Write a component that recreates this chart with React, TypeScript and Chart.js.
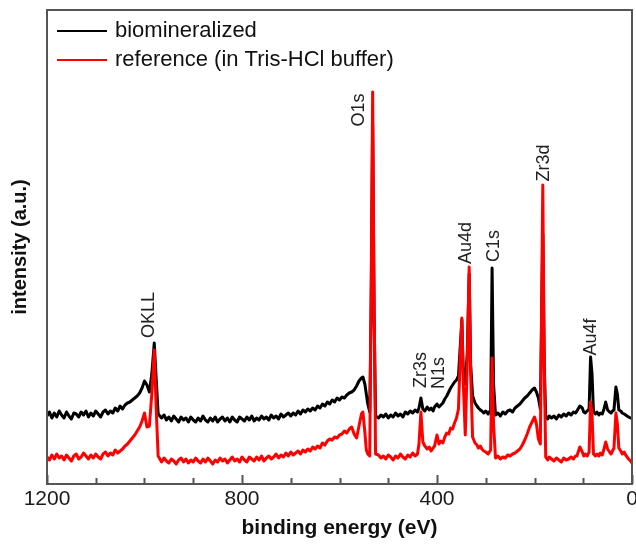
import { useEffect, useRef } from 'react';
import { Chart, registerables } from 'chart.js';

Chart.register(...registerables);

const FONT = '"Liberation Sans", Arial, Helvetica, sans-serif';

// binding energy (eV), descending
const energy = [
  1200, 1195, 1190, 1185, 1180, 1175, 1170, 1165, 1160, 1155, 1150, 1145, 1140, 1135, 1130, 1125, 1120, 1115, 1110, 1105,
  1100, 1095, 1090, 1085, 1080, 1075, 1070, 1065, 1060, 1055, 1050, 1045, 1040,
  1035, 1030, 1025, 1020, 1015, 1010, 1005, 1000, 995, 990, 985, 980, 976, 972,
  965, 960, 955, 950, 945, 940, 935, 930, 925, 920, 915, 910, 905, 900, 895, 890, 885, 880, 875, 870,
  865, 860, 855, 850, 845, 840, 835, 830, 825, 820, 815, 810, 805, 800, 795, 790, 785, 780, 775, 770,
  765, 760, 755, 750, 745, 740, 735, 730, 725, 720, 715, 710, 705, 700, 695, 690, 685, 680, 675, 670,
  665, 660, 655, 650, 645, 640, 635, 630, 625, 620, 615, 610, 605, 600,
  595, 590, 585, 580, 575, 570, 565, 560, 555, 552, 548, 545, 542, 538, 535, 532, 529, 526,
  520, 515, 510, 505, 500, 495, 490, 485, 480, 475, 470, 465, 460, 455, 450, 445, 440,
  437, 433, 429, 425, 420, 416, 412, 408, 405, 400, 396, 392, 388, 384, 380, 376, 372, 368, 364, 360,
  356, 352, 349, 346, 342, 338, 334, 331, 327, 322, 318, 315, 311, 308, 304, 300, 295, 290, 287, 284, 280,
  275, 270, 265, 260, 255, 250, 245, 240, 235, 230, 225, 220, 215, 210, 205, 200, 196, 192, 188, 185, 183, 180, 177,
  173, 170, 165, 160, 155, 150, 145, 140, 135, 130, 125, 120, 116, 113, 107, 102, 99, 96, 92, 88,
  85, 82, 79, 75, 72, 68, 65, 61, 58, 54, 50, 46, 43, 40, 37, 33, 30, 27, 23, 20, 16, 13, 10, 7, 3, 0,
];

const biomineralized = [
  68, 72, 66, 71, 67, 73, 69, 66, 72, 68, 65, 71, 70, 67, 72, 69, 73, 67, 71, 68,
  73, 70, 67, 72, 74, 70, 73, 71, 76, 73, 78, 75, 79,
  81, 82, 84, 86, 88, 91, 96, 103, 99, 92, 110, 141, 105, 70,
  66, 69, 64, 67, 63, 68, 65, 62, 67, 64, 66, 62, 67, 64, 62, 66, 63, 68, 64, 62,
  66, 63, 67, 62, 65, 67, 63, 66, 62, 67, 64, 62, 67, 65, 63, 67, 64, 68, 63, 66,
  64, 68, 65, 67, 64, 69, 66, 68, 65, 70, 67, 69, 71, 68, 71, 69, 73, 70, 74, 72,
  75, 73, 76, 74, 78, 76, 80, 78, 82, 80, 84, 82, 86, 84,
  87, 86, 89, 91, 92, 94, 98, 103, 106, 107, 100, 90, 80, 72, 180, 360, 170, 68,
  66, 69, 67, 70, 66, 69, 67, 71, 68, 70, 67, 72, 70, 73, 71, 74, 72,
  76, 86, 75, 73, 77, 74, 76, 73, 77, 80, 77, 79, 81, 85, 88, 92, 96, 99, 102, 104,
  108, 140, 164, 110, 100, 130, 210, 120, 88, 81, 78, 76, 74, 73, 71, 73, 70, 74, 216, 100, 69,
  71, 68, 72, 70, 73, 74, 72, 76, 78, 80, 83, 86, 88, 91, 94, 96, 92, 86, 75, 180, 250, 120, 67,
  65, 68, 66, 68, 65, 69, 67, 70, 68, 71, 69, 72, 71, 73, 78, 76, 72, 71, 73, 75,
  127, 110, 72, 70, 72, 69, 71, 70, 74, 82, 74, 72, 71, 73, 74, 97, 90, 74, 73, 71, 70, 69, 68, 67, 66, 66,
];

const reference = [
  27, 24, 29, 25, 30, 26, 28, 24, 29, 26, 23, 28, 30, 25, 27, 31, 28, 25, 29, 26,
  30, 27, 25, 30, 32, 28, 31, 29, 34, 31, 33, 35, 38,
  40, 43, 46, 49, 53, 57, 63, 71, 57, 58, 90, 134, 75, 28,
  22, 26, 23, 21, 25, 23, 20, 24, 26, 22, 25, 21, 24, 22, 26, 23, 21, 25, 22, 26,
  23, 20, 24, 22, 26, 23, 25, 21, 24, 27, 23, 25, 22, 27, 24, 22, 27, 25, 23, 27,
  24, 28, 23, 26, 28, 25, 27, 30, 26, 29, 27, 31, 28, 32, 29, 31, 33, 30, 34, 32,
  35, 33, 37, 35, 38, 36, 41, 39, 43, 45, 44, 47, 46, 49,
  50, 53, 51, 55, 57, 50, 46, 58, 70, 72, 52, 34, 30, 28, 200, 392, 180, 30,
  29, 26, 28, 25, 29, 27, 24, 28, 26, 30, 27, 25, 29, 27, 31, 28, 30,
  40, 72, 42, 38, 35, 37, 33, 36, 38, 49, 40, 43, 41, 47, 51, 50, 56, 55, 61, 66,
  75, 130, 166, 100, 49, 120, 217, 110, 47, 41, 39, 36, 38, 35, 33, 32, 30, 34, 126, 60, 26,
  28, 25, 27, 26, 29, 28, 30, 31, 33, 35, 39, 44, 50, 57, 62, 67, 60, 45, 40, 200, 299, 120, 27,
  24, 27, 25, 23, 26, 24, 22, 26, 24, 25, 27, 25, 28, 28, 37, 32, 28, 30, 28, 32,
  82, 70, 30, 28, 30, 28, 31, 29, 34, 42, 35, 32, 30, 33, 36, 71, 60, 36, 33, 30, 32, 29, 27, 25, 23, 21,
];

const seriesNames = ['biomineralized', 'reference (in Tris-HCl buffer)'];
const seriesColors = ['#000000', '#ff0000'];

const xTickStep = 100;
const xLabelStep = 400;
const xTitle = 'binding energy (eV)';
const yTitle = 'intensity (a.u.)';

// peak annotations: label, binding energy, intensity at label centre
const peakLabels = ['OKLL', 'O1s', 'Zr3s', 'N1s', 'Au4d', 'C1s', 'Zr3d', 'Au4f'];
const peakEnergies = [993, 562, 435, 398, 343, 285, 183, 86];
const peakLabelLevels = [169, 374, 114, 111, 241, 238, 321, 147];

const decor = {
  id: 'decor',
  afterDatasetsDraw(chart: any) {
    const { ctx, chartArea, scales } = chart;
    const xs = scales.x;
    const ys = scales.y;
    ctx.save();
    // frame
    ctx.strokeStyle = '#555';
    ctx.lineWidth = 2;
    ctx.strokeRect(chartArea.left, chartArea.top, chartArea.right - chartArea.left, chartArea.bottom - chartArea.top);
    // inward ticks
    ctx.beginPath();
    for (let v = 0; v <= 1200; v += xTickStep) {
      const px = Math.round(xs.getPixelForValue(v)) + 0.5;
      const len = v % xLabelStep === 0 ? 9 : 6;
      ctx.moveTo(px, chartArea.bottom);
      ctx.lineTo(px, chartArea.bottom - len);
    }
    ctx.stroke();
    // peak labels
    ctx.fillStyle = '#222';
    ctx.font = `18px ${FONT}`;
    ctx.textAlign = 'center';
    ctx.textBaseline = 'middle';
    peakLabels.forEach((t, i) => {
      const px = xs.getPixelForValue(peakEnergies[i]);
      const py = ys.getPixelForValue(peakLabelLevels[i]);
      ctx.save();
      ctx.translate(px, py);
      ctx.rotate(-Math.PI / 2);
      ctx.fillText(t, 0, 1);
      ctx.restore();
    });
    // legend
    const ds = chart.data.datasets;
    ctx.font = `22px ${FONT}`;
    ctx.textAlign = 'left';
    ds.forEach((d: any, i: number) => {
      const y = chartArea.top + 21 + i * 29;
      ctx.strokeStyle = d.borderColor;
      ctx.lineWidth = 2;
      ctx.beginPath();
      ctx.moveTo(chartArea.left + 10, y);
      ctx.lineTo(chartArea.left + 60, y);
      ctx.stroke();
      ctx.fillStyle = '#111';
      ctx.fillText(d.label, chartArea.left + 68, y);
    });
    // axis titles
    ctx.fillStyle = '#111';
    ctx.font = `bold 21px ${FONT}`;
    ctx.textAlign = 'center';
    ctx.fillText(xTitle, (chartArea.left + chartArea.right) / 2, 528);
    ctx.save();
    ctx.translate(20, (chartArea.top + chartArea.bottom) / 2);
    ctx.rotate(-Math.PI / 2);
    ctx.font = `bold 20px ${FONT}`;
    ctx.fillText(yTitle, 0, 0);
    ctx.restore();
    ctx.restore();
  },
};

export default function App() {
  const ref = useRef<HTMLCanvasElement>(null);
  useEffect(() => {
    const canvas = ref.current!;
    const chart = new Chart(canvas, {
      type: 'line',
      data: {
        datasets: [
          {
            label: seriesNames[0],
            data: energy.map((e, i) => ({ x: e, y: biomineralized[i] })),
            borderColor: seriesColors[0],
            borderWidth: 3,
            borderJoinStyle: 'round',
            pointRadius: 0,
            tension: 0,
            order: 1,
          },
          {
            label: seriesNames[1],
            data: energy.map((e, i) => ({ x: e, y: reference[i] })),
            borderColor: seriesColors[1],
            borderWidth: 3,
            borderJoinStyle: 'round',
            pointRadius: 0,
            tension: 0,
            order: 0,
          },
        ],
      },
      options: {
        responsive: false,
        animation: false,
        layout: { padding: { top: 10, right: 4, left: 0, bottom: 0 } },
        plugins: { legend: { display: false }, tooltip: { enabled: false } },
        scales: {
          x: {
            type: 'linear',
            reverse: true,
            min: 0,
            max: 1200,
            afterFit: (s: any) => {
              s.height = 66;
              s.paddingLeft = 0;
              s.paddingRight = 0;
            },
            grid: { display: false, drawTicks: false },
            border: { display: false },
            ticks: {
              stepSize: xTickStep,
              autoSkip: false,
              maxRotation: 0,
              padding: 3,
              color: '#1a1a1a',
              font: { family: FONT, size: 21 },
              callback: (v: any) => (Number(v) % xLabelStep === 0 ? String(v) : ''),
            },
          },
          y: {
            type: 'linear',
            min: 0,
            max: 474,
            afterFit: (s: any) => {
              s.width = 47;
            },
            ticks: { display: false },
            grid: { display: false },
            border: { display: false },
          },
        },
      },
      plugins: [decor],
    });
    return () => chart.destroy();
  }, []);
  return (
    <div style={{ position: 'fixed', left: 0, top: 0, width: 636, height: 550, background: '#fff' }}>
      <canvas ref={ref} width={636} height={550} style={{ display: 'block' }} />
    </div>
  );
}
